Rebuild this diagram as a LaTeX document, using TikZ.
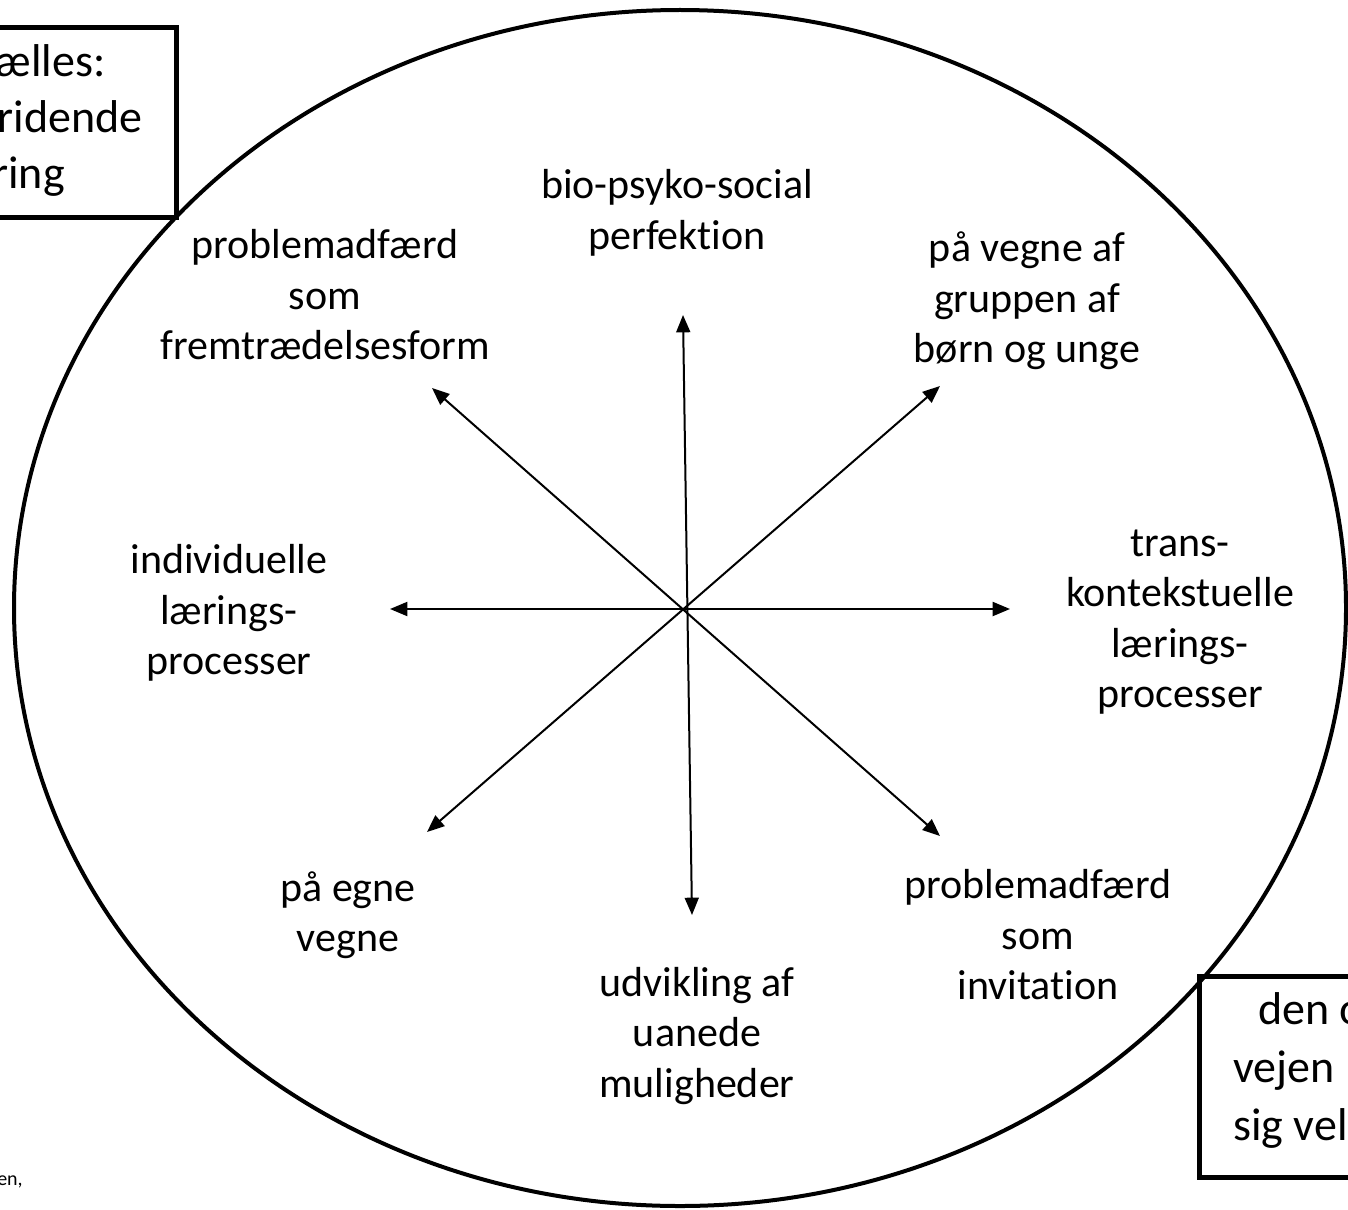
\documentclass[tikz,border=0pt]{standalone}
\usepackage{fontspec}
\setmainfont{Carlito}[Ligatures=NoCommon]
\usetikzlibrary{arrows.meta}
\begin{document}
\begin{tikzpicture}[x=0.75pt,y=-0.75pt,
  lbl/.style={font=\fontsize{31.5}{37.9}\selectfont, align=center, inner sep=0pt},
  boxtxt/.style={font=\fontsize{34.5}{41.6}\selectfont, inner sep=0pt},
  smalltxt/.style={font=\fontsize{15}{18}\selectfont, inner sep=0pt},
  axisline/.style={line width=1.5pt, {Triangle[length=13pt,width=10.5pt]}-{Triangle[length=13pt,width=10.5pt]}},
  frame/.style={line width=3.75pt},
  oval/.style={line width=3pt}]
\useasboundingbox (0,0) rectangle (1348,1209);
\clip (0,0) rectangle (1348,1209);

% big ellipse
\draw[oval] (680,608) ellipse [x radius=666, y radius=598];

% corner boxes
\draw[frame] (-30,28) rectangle (176,217);
\node[boxtxt, anchor=base east] (tl1) at (106,77) {ælles:};
\node[boxtxt, anchor=base east] (tl2) at (143,133) {ridende};
\node[boxtxt, anchor=base east] (tl3) at (65,188) {ring};

\draw[frame] (1199,976) rectangle (1400,1177);
\node[boxtxt, anchor=base west] (br1) at (1258,1024) {den o};
\node[boxtxt, anchor=base west] (br2) at (1233,1082) {vejen};
\node[boxtxt, anchor=base west] (br3) at (1233,1140) {sig vel};

\node[smalltxt, anchor=base east] (src) at (23,1185) {en,};

% arrow end points
\coordinate (up) at (683,315);
\coordinate (down) at (692,915);
\coordinate (left) at (390,609);
\coordinate (right) at (1010,609);
\coordinate (ul) at (432,388);
\coordinate (dr) at (940,836);
\coordinate (ur) at (940,386);
\coordinate (dl) at (427,832);

\draw[axisline] (up) -- (down);
\draw[axisline] (left) -- (right);
\draw[axisline] (ul) -- (dr);
\draw[axisline] (ur) -- (dl);

% labels
\node[lbl] (n) at (677,213) {bio-psyko-social\\perfektion};
\node[lbl] (nw) at (325,295) {problemadfærd\\som\\fremtrædelsesform};
\node[lbl] (ne) at (1027,301) {på vegne af\\gruppen af\\børn og unge};
\node[lbl] (e) at (1180,622) {trans-\\kontekstuelle\\lærings-\\processer};
\node[lbl] (w) at (229,613) {individuelle\\lærings-\\processer};
\node[lbl] (sw) at (348,915) {på egne\\vegne};
\node[lbl] (s) at (697,1036) {udvikling af\\uanede\\muligheder};
\node[lbl] (se) at (1038,935) {problemadfærd\\som\\invitation};
\end{tikzpicture}
\end{document}
